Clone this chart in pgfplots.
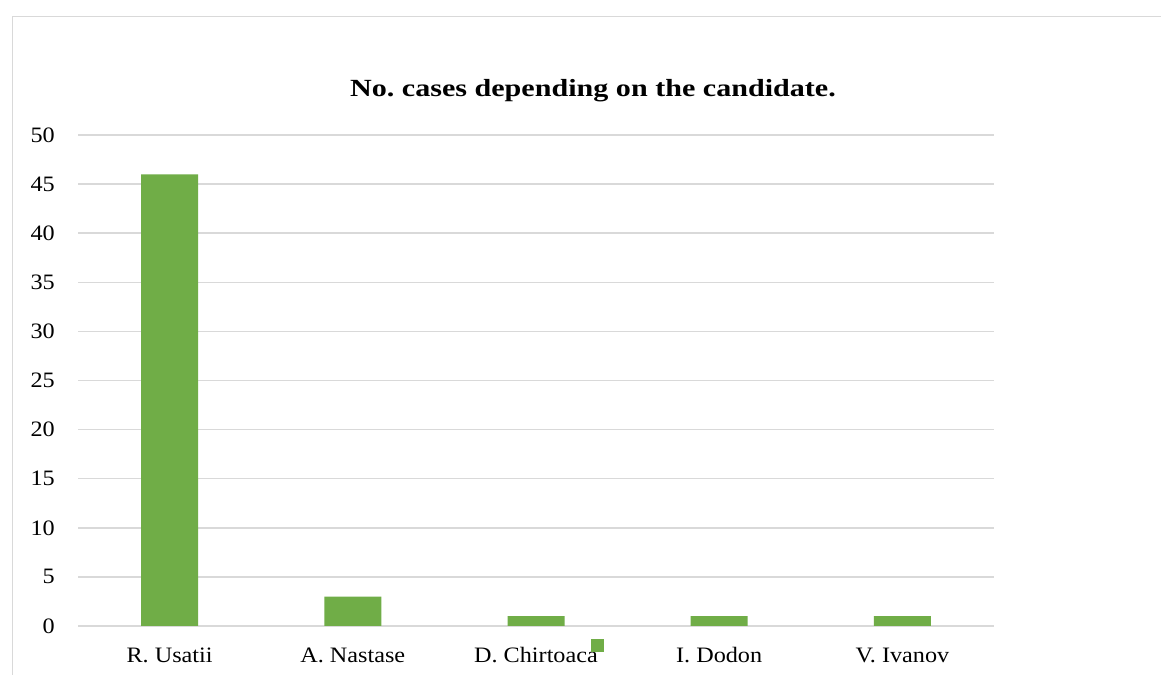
\documentclass[border=0pt]{standalone}
\usepackage{pgfplots}
\pgfplotsset{compat=1.18}
\usepackage{fontspec}
\setmainfont{Liberation Serif}[FakeStretch=1.1]
\newfontfamily\titlefont{Liberation Serif}[FakeStretch=1.22]
\definecolor{barGreen}{HTML}{70AD47}
\definecolor{gridGray}{HTML}{D9D9D9}
\begin{document}
\frenchspacing
\begin{tikzpicture}
\useasboundingbox (0,0) rectangle (870.75pt,506.25pt);
\fill[white] (0,0) rectangle (870.75pt,506.25pt);
\draw[gridGray, line width=1.3pt] (9.4pt,-5pt) -- (9.4pt,493.9pt) -- (880pt,493.9pt);
\begin{axis}[
  at={(58.5pt,36.75pt)}, anchor=south west,
  scale only axis, width=687pt, height=368.25pt,
  xmin=-0.5, xmax=4.5, ymin=0, ymax=50,
  ytick={0,5,...,50},
  xtick=data,
  xticklabels={R. Usatii, A. Nastase, D. Chirtoaca, I. Dodon, V. Ivanov},
  axis line style={draw=none},
  major tick length=0pt,
  ymajorgrids, grid style={gridGray, line width=1.1pt},
  tick label style={font=\fontsize{16.5}{19}\selectfont, text=black},
  yticklabel style={inner sep=0pt, anchor=east, xshift=-17.25pt},
  xticklabel style={inner sep=0pt, anchor=base, yshift=-27.75pt},
  /pgf/number format/assume math mode=true,
  ybar, bar width=42.75pt,
  legend style={at={(axis cs:2.34,-2)}, anchor=center, draw=none, fill=none, inner sep=0pt, nodes={inner sep=0pt}},
  legend image code/.code={\fill[barGreen] (-4.9pt,-4.9pt) rectangle (4.9pt,4.9pt);},
]
\addplot[fill=barGreen, draw=none, bar shift=0pt] coordinates {(0,46) (1,3) (2,1) (3,1) (4,1)};
\addlegendentry{}
\end{axis}
\node[font=\fontsize{18.5}{22}\selectfont\titlefont\bfseries] at (444.75pt,438.5pt) {No. cases depending on the candidate.};
\end{tikzpicture}
\end{document}
